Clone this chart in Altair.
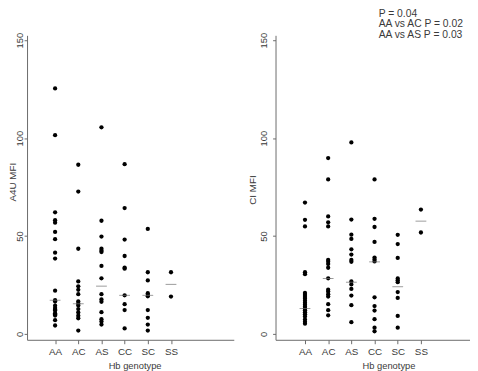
import altair as alt
import pandas as pd

genotypes = ["AA", "AC", "AS", "CC", "SC", "SS"]

# A4U MFI values per genotype
a4u_AA = [125.4, 101.5, 62.1, 58.1, 56.8, 52.1, 48.4, 41.5, 38.5, 22.1, 17.2, 16.5,
          14.4, 13.2, 12.5, 11.9, 10.6, 10.0, 9.4, 7.0, 4.3]
a4u_AC = [86.4, 72.7, 43.5, 26.8, 24.3, 22.5, 20.3, 16.6, 15.4, 14.5, 12.7, 11.0, 9.3, 8.0, 1.7]
a4u_AS = [105.5, 57.8, 49.7, 43.5, 42.5, 41.8, 34.7, 28.4, 20.3, 17.6, 16.4, 11.1, 7.5, 6.3, 4.8]
a4u_CC = [86.7, 64.3, 48.2, 39.8, 33.8, 33.3, 19.7, 15.2, 12.2, 2.8]
a4u_SC = [53.6, 31.5, 27.3, 20.8, 19.9, 19.2, 12.2, 8.2, 4.8, 1.7]
a4u_SS = [31.5, 19.1]
a4u_median = [17.2, 15.4, 24.4, 19.7, 19.7, 25.3]

# CI MFI values per genotype
ci_AA = [67.1, 58.3, 54.9, 31.5, 30.5, 20.9, 19.9, 18.9, 17.9, 16.9, 15.9, 14.9, 13.9,
         13.0, 12.1, 11.1, 10.1, 8.9, 7.4, 6.2, 5.2]
ci_AC = [89.8, 78.9, 60.0, 57.0, 54.9, 37.8, 36.8, 35.7, 33.8, 28.4, 22.6, 21.6, 20.3,
         19.1, 15.2, 12.1, 9.5]
ci_AS = [97.8, 58.4, 50.7, 48.5, 43.2, 40.5, 37.8, 36.8, 26.8, 25.3, 23.0, 19.6, 14.7, 6.0]
ci_CC = [78.9, 58.8, 54.6, 47.0, 39.0, 38.0, 37.0, 18.7, 14.2, 11.9, 7.5, 3.2, 1.3]
ci_SC = [50.6, 45.9, 38.8, 28.3, 27.4, 26.4, 21.4, 18.4, 9.2, 3.2]
ci_SS = [63.5, 51.8]
ci_median = [13.0, 28.3, 26.4, 36.8, 24.1, 57.6]

y_ticks = [0, 50, 100, 150]
annotation_lines = ["P = 0.04", "AA vs AC P = 0.02", "AA vs AS P = 0.03"]

FONT = "Liberation Sans"
TEXT = "#3a3a3a"
AXIS = "#6a6a6a"

label_expr = "[" + ",".join("'%s'" % g for g in genotypes) + "][datum.value - 1]"


def panel(value_lists, medians, ytitle, x_domain, width, x_title_x,
          y_title_x, y_title_y, y_label_pad):
    rows = []
    for i, (g, vals) in enumerate(zip(genotypes, value_lists)):
        for v in vals:
            rows.append({"genotype": g, "pos": i + 1, "value": v})
    df = pd.DataFrame(rows)
    med = pd.DataFrame({"genotype": genotypes,
                        "pos": list(range(1, len(genotypes) + 1)),
                        "value": medians})
    x = alt.X("pos:Q",
              scale=alt.Scale(domain=x_domain, nice=False, zero=False),
              axis=alt.Axis(values=list(range(1, len(genotypes) + 1)),
                            labelExpr=label_expr, title="Hb genotype",
                            tickSize=4, labelPadding=3, labelFontSize=10,
                            titleFontSize=9.5, titlePadding=4, titleX=x_title_x,
                            titleFontWeight="normal"))
    y = alt.Y("value:Q",
              scale=alt.Scale(domain=[-3, 152.5], nice=False, zero=False),
              axis=alt.Axis(values=y_ticks, title=ytitle, labelAngle=270,
                            labelAlign="center", labelBaseline="bottom",
                            tickSize=3, labelPadding=y_label_pad, labelFontSize=9.5,
                            titleFontSize=10, titleAngle=270, titleAlign="center",
                            titleBaseline="bottom", titleX=y_title_x, titleY=y_title_y,
                            titleFontWeight="normal"))
    pts = alt.Chart(df).mark_circle(size=19, color="black", opacity=1).encode(x=x, y=y)
    bars = alt.Chart(med).mark_tick(orient="horizontal", size=11, thickness=1,
                                    color="#707070").encode(x="pos:Q", y="value:Q")
    return alt.layer(pts, bars).properties(width=width, height=310)


left = panel([a4u_AA, a4u_AC, a4u_AS, a4u_CC, a4u_SC, a4u_SS], a4u_median, "A4U MFI",
             [-0.21, 8.71], 210.5, 109.5, -10, 149, -0.5)
right_base = panel([ci_AA, ci_AC, ci_AS, ci_CC, ci_SC, ci_SS], ci_median, "CI MFI",
                   [-0.27, 8.71], 212, 115, -18, 157, 4)

ann = alt.Chart(pd.DataFrame({"t": ["\n".join(annotation_lines)]})).mark_text(
    align="left", baseline="top", lineBreak="\n", lineHeight=10.7,
    fontSize=10.5, font=FONT, color=TEXT
).encode(text="t:N", x=alt.value(105), y=alt.value(-26.8))

right = alt.layer(right_base, ann)

chart = alt.hconcat(left, right, spacing=42, bounds="flush").properties(
    padding={"left": -0.6, "top": -2.5, "right": -14, "bottom": 0}
).configure_view(stroke=None).configure_axis(
    grid=False, domainColor=AXIS, tickColor=AXIS, labelColor=TEXT, titleColor=TEXT,
    labelFont=FONT, titleFont=FONT, domainWidth=1, tickWidth=1
)

chart.save("out.html", embed_options={"renderer": "svg", "actions": False})
